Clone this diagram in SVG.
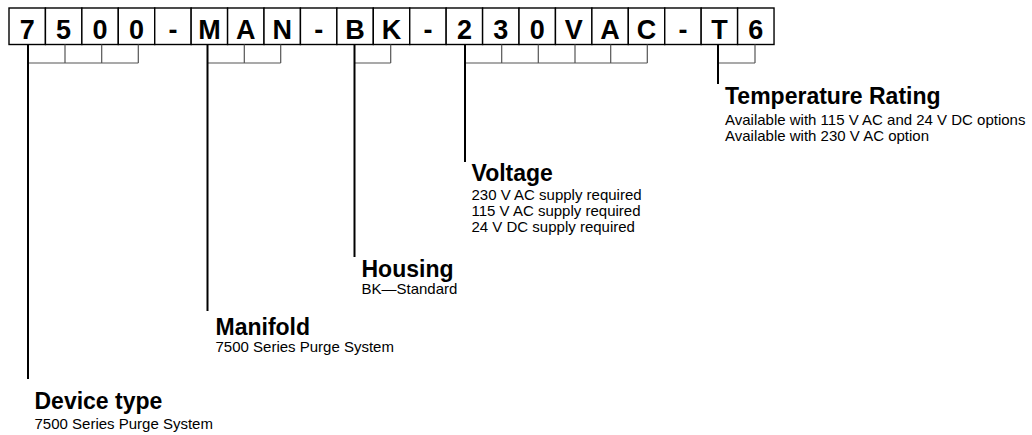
<svg xmlns="http://www.w3.org/2000/svg" width="1032" height="435" viewBox="0 0 1032 435">
<style>
.box rect{fill:#fff;stroke:#000;stroke-width:1.4}
.box text{font-family:"Liberation Sans",Arial,sans-serif;font-weight:bold;font-size:27px;text-anchor:middle;fill:#000}
.br{fill:none;stroke:#555;stroke-width:1.2}
.ld{fill:none;stroke:#000;stroke-width:2}
.t{font-family:"Liberation Sans",Arial,sans-serif;font-weight:bold;font-size:23px;fill:#000}
.s{font-family:"Liberation Sans",Arial,sans-serif;font-size:15px;fill:#000}
</style>
<rect width="1032" height="435" fill="#fff"/>
<g id="code">
<g id="c0" class="box"><rect x="9" y="8" width="36.43" height="36.5"/><text x="27.2" y="39">7</text></g>
<g id="c1" class="box"><rect x="45.43" y="8" width="36.43" height="36.5"/><text x="63.6" y="39">5</text></g>
<g id="c2" class="box"><rect x="81.86" y="8" width="36.43" height="36.5"/><text x="100.1" y="39">0</text></g>
<g id="c3" class="box"><rect x="118.29" y="8" width="36.43" height="36.5"/><text x="136.5" y="39">0</text></g>
<g id="c4" class="box"><rect x="154.72" y="8" width="36.43" height="36.5"/><text x="172.9" y="39">-</text></g>
<g id="c5" class="box"><rect x="191.15" y="8" width="36.43" height="36.5"/><text x="209.4" y="39">M</text></g>
<g id="c6" class="box"><rect x="227.58" y="8" width="36.43" height="36.5"/><text x="245.8" y="39">A</text></g>
<g id="c7" class="box"><rect x="264.01" y="8" width="36.43" height="36.5"/><text x="282.2" y="39">N</text></g>
<g id="c8" class="box"><rect x="300.44" y="8" width="36.43" height="36.5"/><text x="318.7" y="39">-</text></g>
<g id="c9" class="box"><rect x="336.87" y="8" width="36.43" height="36.5"/><text x="355.1" y="39">B</text></g>
<g id="c10" class="box"><rect x="373.3" y="8" width="36.43" height="36.5"/><text x="391.5" y="39">K</text></g>
<g id="c11" class="box"><rect x="409.73" y="8" width="36.43" height="36.5"/><text x="427.9" y="39">-</text></g>
<g id="c12" class="box"><rect x="446.16" y="8" width="36.43" height="36.5"/><text x="464.4" y="39">2</text></g>
<g id="c13" class="box"><rect x="482.59" y="8" width="36.43" height="36.5"/><text x="500.8" y="39">3</text></g>
<g id="c14" class="box"><rect x="519.02" y="8" width="36.43" height="36.5"/><text x="537.2" y="39">0</text></g>
<g id="c15" class="box"><rect x="555.45" y="8" width="36.43" height="36.5"/><text x="573.7" y="39">V</text></g>
<g id="c16" class="box"><rect x="591.88" y="8" width="36.43" height="36.5"/><text x="610.1" y="39">A</text></g>
<g id="c17" class="box"><rect x="628.31" y="8" width="36.43" height="36.5"/><text x="646.5" y="39">C</text></g>
<g id="c18" class="box"><rect x="664.74" y="8" width="36.43" height="36.5"/><text x="683" y="39">-</text></g>
<g id="c19" class="box"><rect x="701.17" y="8" width="36.43" height="36.5"/><text x="719.4" y="39">T</text></g>
<g id="c20" class="box"><rect x="737.6" y="8" width="36.43" height="36.5"/><text x="755.8" y="39">6</text></g>
</g>
<g id="connectors">
<path class="br" d="M28 63H138.3M65 44.5V63M101.7 44.5V63M138.3 44.5V63"/>
<path class="br" d="M207.5 63H280.7M244.3 44.5V63M280.7 44.5V63"/>
<path class="br" d="M354.5 63H390.7M390.7 44.5V63"/>
<path class="br" d="M465 63H647.3M501.7 44.5V63M538.3 44.5V63M575 44.5V63M610.7 44.5V63M647.3 44.5V63"/>
<path class="br" d="M718.3 63H755M755 44.5V63"/>
<path class="ld" d="M28 44.5V379"/>
<path class="ld" d="M207.5 44.5V311"/>
<path class="ld" d="M354.5 44.5V257"/>
<path class="ld" d="M465 44.5V162"/>
<path class="ld" d="M718 44.5V84"/>
</g>
<g id="temperature">
<text class="t" x="725" y="104">Temperature Rating</text>
<text class="s" x="725" y="124.5">Available with 115 V AC and 24 V DC options</text>
<text class="s" x="725" y="140.5">Available with 230 V AC option</text>
</g>
<g id="voltage">
<text class="t" x="471.5" y="181">Voltage</text>
<text class="s" x="471.5" y="200">230 V AC supply required</text>
<text class="s" x="471.5" y="216">115 V AC supply required</text>
<text class="s" x="471.5" y="232">24 V DC supply required</text>
</g>
<g id="housing">
<text class="t" x="361.5" y="277">Housing</text>
<text class="s" x="361.5" y="294">BK—Standard</text>
</g>
<g id="manifold">
<text class="t" x="215.5" y="335">Manifold</text>
<text class="s" x="215.5" y="351.5">7500 Series Purge System</text>
</g>
<g id="device">
<text class="t" x="34.5" y="409">Device type</text>
<text class="s" x="34.5" y="428.5">7500 Series Purge System</text>
</g>
</svg>
